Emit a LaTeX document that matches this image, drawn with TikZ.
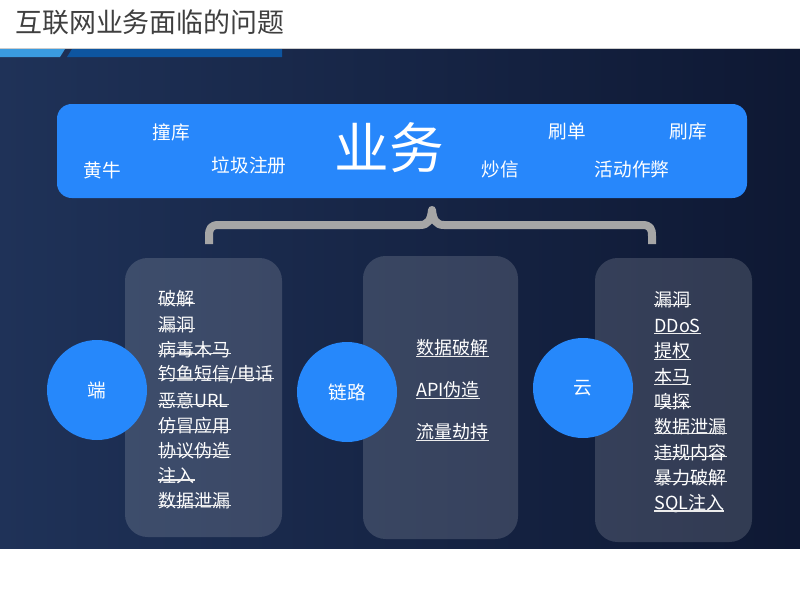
\documentclass[tikz,border=0pt]{standalone}
\usepackage{fontspec}
\setmainfont{Noto Sans CJK SC}
\definecolor{bgL}{HTML}{1F3258}
\definecolor{bgR}{HTML}{0E1833}
\definecolor{biz}{HTML}{2787FB}
\definecolor{circ}{HTML}{2688FB}
\definecolor{brace}{HTML}{A6A6A6}
\definecolor{barL}{HTML}{3A9BE0}
\definecolor{barD}{HTML}{0D55A0}
\definecolor{titlec}{HTML}{3F3F3F}
\tikzset{
  toplbl/.style={text=white,font=\fontsize{14}{16}\selectfont,inner sep=0pt},
  panel/.style={fill=white,fill opacity=0.15,rounded corners=17pt,draw=none},
  bubble/.style={circle,fill=circ,minimum size=75pt,inner sep=0pt,text=white,font=\fontsize{14}{16}\selectfont},
  itemtxt/.style={anchor=west,inner sep=0pt,text=white,font=\fontsize{13.5}{15}\selectfont},
  mark line/.style={draw=white!85!gray,line width=0.8pt},
}
\begin{document}
\begin{tikzpicture}[x=0.75pt,y=-0.75pt]
\useasboundingbox (0,0) rectangle (800,600);
\fill[white] (0,0) rectangle (800,600);
% background
\shade[left color=bgL,right color=bgR] (0,49) rectangle (800,548);
\draw[gray!40,line width=0.6pt] (0,48.6) -- (800,48.6);
% header bar
\fill[barL] (0,49) -- (65,49) -- (60,57) -- (0,57) -- cycle;
\fill[barD] (72,49) -- (282,49) -- (282,57) -- (67,57) -- cycle;
\node[anchor=west,inner sep=0pt,text=titlec,font=\fontsize{20.2}{22}\selectfont] (title) at (15,22) {互联网业务面临的问题};
% business bar
\fill[biz,rounded corners=11pt] (57,104) rectangle (747,198);
\node[toplbl,font=\fontsize{41}{44}\selectfont] (biz) at (389,148) {业务};
\node[toplbl] (zk) at (171,132) {撞库};
\node[toplbl] (hn) at (102,170) {黄牛};
\node[toplbl] (ljzc) at (249,165) {垃圾注册};
\node[toplbl] (cx) at (500,169) {炒信};
\node[toplbl] (sd) at (567,131) {刷单};
\node[toplbl] (sk) at (688,131) {刷库};
\node[toplbl] (hdzb) at (632,169) {活动作弊};
% brace
\draw[brace,line width=6pt,line join=round] (209,244) -- (209,236) .. controls (209,228) and (211,225) .. (219,225) -- (420,225) .. controls (428,225) and (431,220) .. (432,210) .. controls (433,220) and (436,225) .. (444,225) -- (642,225) .. controls (650,225) and (652,228) .. (652,236) -- (652,244);
% panels
\path[panel] (125,258) rectangle (282,537);
\path[panel] (363,256) rectangle (518,539);
\path[panel] (595,258) rectangle (752,542);
% circles
\node[bubble] (duan) at (97,390) {端};
\node[bubble] (lianlu) at (347,392) {链路};
\node[bubble] (yun) at (583,388) {云};
% left list
\foreach \t [count=\i] in {破解,漏洞,病毒木马,钓鱼短信/电话,恶意URL,仿冒应用,协议伪造,注入,数据泄漏}{
  \node[itemtxt] (L\i) at (158,{299+25.25*(\i-1)}) {\t};
  \draw[mark line] ([yshift=2pt]L\i.base west) -- ([yshift=2pt]L\i.base east);
}
% middle list
\foreach \t/\yy [count=\i] in {数据破解/348,API伪造/389.5,流量劫持/432}{
  \node[itemtxt] (M\i) at (416,\yy) {\t};
  \draw[mark line] ([yshift=-1.6pt]M\i.base west) -- ([yshift=-1.6pt]M\i.base east);
}
% right list
\foreach \t/\d [count=\i] in {漏洞/2,DDoS/-1.4,提权/-1.2,本马/-1.2,嗅探/1.5,数据泄漏/0,违规内容/2,暴力破解/2,SQL注入/-1.4}{
  \node[itemtxt] (R\i) at (654,{300+25.4*(\i-1)}) {\t};
  \draw[mark line] ([yshift=\d pt]R\i.base west) -- ([yshift=\d pt]R\i.base east);
}
\end{tikzpicture}
\end{document}
